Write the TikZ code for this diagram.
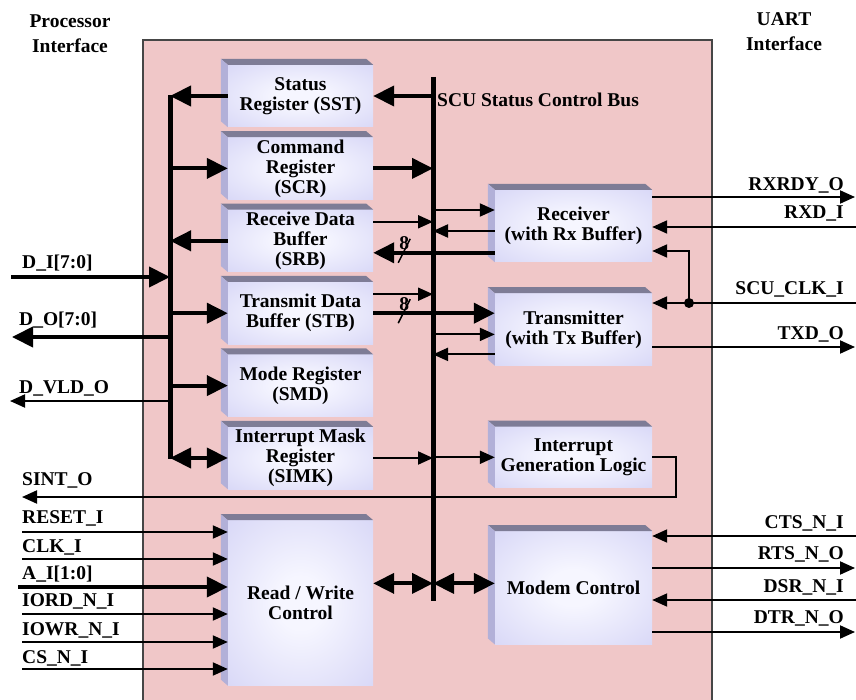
\documentclass[tikz,border=0pt]{standalone}
\usepackage{fontspec}
\setmainfont{Liberation Serif}
\usetikzlibrary{arrows.meta,positioning}
\definecolor{cellpink}{RGB}{240,199,200}
\definecolor{celledge}{RGB}{70,70,70}
\definecolor{boxin}{RGB}{246,246,255}
\definecolor{boxout}{RGB}{206,205,244}
\definecolor{boxtop}{RGB}{126,124,150}
\definecolor{boxside}{RGB}{178,176,216}
\pgfdeclareradialshading{boxglow}{\pgfpoint{0bp}{0bp}}{color(0bp)=(boxin); color(8bp)=(boxin); color(46bp)=(boxout); color(72bp)=(boxout)}
\newcommand{\sigfont}{\fontsize{19.5}{20}\selectfont\bfseries}
\newcommand{\hdrfont}{\fontsize{19.5}{25}\selectfont\bfseries}

\begin{document}
\begin{tikzpicture}[
    x=1pt,y=-1pt,
    every node/.style={font=\sigfont},
    regbox/.style={rectangle,shade,shading=boxglow,inner sep=0pt,align=center,
      minimum width=145pt,minimum height=62pt},
    unitbox/.style={regbox,minimum width=157pt,minimum height=72pt},
    pinlbl/.style={inner sep=0pt},
    dotnode/.style={circle,fill=black,inner sep=0pt,minimum size=10pt},
    thinarr/.style={line width=2pt,-{Triangle[length=15pt,width=13pt]}},
    thickarr/.style={line width=4pt,-{Triangle[length=21pt,width=20pt]}},
    dblarr/.style={line width=4pt,{Triangle[length=21pt,width=20pt]}-{Triangle[length=21pt,width=20pt]}},
    bus/.style={line width=5pt},
    slash/.style={line width=1.5pt}
  ]
  \useasboundingbox (0,0) rectangle (856,700);
  \fill[cellpink,draw=celledge,line width=1.2pt] (143,40) rectangle (712,703);

  \node[align=center,font=\hdrfont] (procif) at (70,34) {Processor\\Interface};
  \node[align=center,font=\hdrfont] (uartif) at (784,32) {UART\\Interface};

  % register column
  \node[regbox] (sst) at (300.5,96) {Status\\Register (SST)};
  \node[regbox,below=10pt of sst] (scr) {Command\\Register\\(SCR)};
  \node[regbox,below=10pt of scr] (srb) {Receive Data\\Buffer\\(SRB)};
  \node[regbox,below=10pt of srb] (stb) {Transmit Data\\Buffer (STB)};
  \node[regbox,below=10pt of stb] (smd) {Mode Register\\(SMD)};
  \node[regbox,below=10pt of smd] (simk) {Interrupt Mask\\Register\\(SIMK)};
  \node[regbox,below=31pt of simk,minimum height=165pt] (rw) {Read / Write\\Control};

  % uart column
  \node[unitbox] (rx) at (573.5,226) {Receiver\\(with Rx Buffer)};
  \node[unitbox,below=31pt of rx] (tx) {Transmitter\\(with Tx Buffer)};
  \node[unitbox,below=61pt of tx,minimum height=61pt] (igl) {Interrupt\\Generation Logic};
  \node[unitbox,below=43pt of igl,minimum height=113pt] (mdm) {Modem Control};

  % 3d edges
  \foreach \b in {sst,scr,srb,stb,smd,simk,rw,rx,tx,igl,mdm} {
    \fill[boxtop] (\b.north west) -- ++(-7,-6) -- ([shift={(-7,-6)}]\b.north east) -- (\b.north east) -- cycle;
    \fill[boxside] (\b.north west) -- ++(-7,-6) -- ([shift={(-7,-6)}]\b.south west) -- (\b.south west) -- cycle;
  }

  % buses
  \coordinate (lbtop) at (170,95);
  \coordinate (lbbot) at (170,459);
  \draw[bus] (lbtop) -- (lbbot);
  \coordinate (mbtop) at (433,77);
  \coordinate (mbbot) at (433,601);
  \draw[bus] (mbtop) -- (mbbot);
  \node[pinlbl,anchor=base west] (buslbl) at (437,107) {SCU Status Control Bus};

  % processor side bus
  \draw[thickarr] (sst.west) -- (sst.west -| lbtop);
  \draw[thickarr] (scr.west -| lbtop) -- (scr.west);
  \draw[thickarr] (srb.west) -- (srb.west -| lbtop);
  \draw[thickarr] (stb.west -| lbtop) -- (stb.west);
  \draw[thickarr] (smd.west -| lbtop) -- (smd.west);
  \draw[dblarr] (simk.west -| lbtop) -- (simk.west);

  \coordinate (dii) at (11,277);
  \draw[thickarr] (dii) -- (dii -| lbtop);
  \node[pinlbl,anchor=base west] (ldi) at (22,269) {D\_I[7:0]};
  \coordinate (doo) at (12,337);
  \draw[thickarr] (doo -| lbtop) -- (doo);
  \node[pinlbl,anchor=base west] (ldo) at (19,326) {D\_O[7:0]};
  \coordinate (dvld) at (10,401);
  \draw[thinarr] (dvld -| lbtop) -- (dvld);
  \node[pinlbl,anchor=base west] (ldvld) at (19,393) {D\_VLD\_O};

  \coordinate (sintc) at (676,497);
  \coordinate (sinto) at (22,497);
  \draw[thinarr] (igl.east) -| (sintc) -- (sinto);
  \node[pinlbl,anchor=base west] (lsint) at (22,485) {SINT\_O};

  \coordinate (rsti) at (22,532);
  \draw[thinarr] (rsti) -- (rsti -| rw.west);
  \node[pinlbl,anchor=base west] (lrst) at (22,523) {RESET\_I};
  \coordinate (clki) at (22,559);
  \draw[thinarr] (clki) -- (clki -| rw.west);
  \node[pinlbl,anchor=base west] (lclk) at (22,552) {CLK\_I};
  \coordinate (adri) at (18,587);
  \draw[thickarr] (adri) -- (adri -| rw.west);
  \node[pinlbl,anchor=base west] (ladr) at (22,579) {A\_I[1:0]};
  \coordinate (iordi) at (22,614);
  \draw[thinarr] (iordi) -- (iordi -| rw.west);
  \node[pinlbl,anchor=base west] (liord) at (22,606) {IORD\_N\_I};
  \coordinate (iowri) at (22,642);
  \draw[thinarr] (iowri) -- (iowri -| rw.west);
  \node[pinlbl,anchor=base west] (liowr) at (22,635) {IOWR\_N\_I};
  \coordinate (csi) at (22,669);
  \draw[thinarr] (csi) -- (csi -| rw.west);
  \node[pinlbl,anchor=base west] (lcs) at (22,663) {CS\_N\_I};

  % status control bus
  \draw[thickarr] (sst.east -| mbtop) -- (sst.east);
  \draw[thickarr] (scr.east) -- (scr.east -| mbtop);
  \coordinate (srbst) at ([yshift=19pt]srb.east);
  \draw[thinarr] (srbst) -- (srbst -| mbtop);
  \coordinate (rxdata) at ([yshift=-12pt]srb.east);
  \draw[thickarr] (rxdata -| rx.west) -- (rxdata);
  \draw[slash] ([shift={(25,10)}]rxdata) -- ([shift={(37,-14)}]rxdata);
  \node[pinlbl,anchor=base] (w8rx) at ([shift={(31,-3)}]rxdata) {8};
  \coordinate (rxcmd) at ([yshift=16pt]rx.west);
  \draw[thinarr] (rxcmd -| mbtop) -- (rxcmd);
  \coordinate (rxstat) at ([yshift=-5pt]rx.west);
  \draw[thinarr] (rxstat) -- (rxstat -| mbtop);

  \coordinate (stbst) at ([yshift=19pt]stb.east);
  \draw[thinarr] (stbst) -- (stbst -| mbtop);
  \draw[thickarr] (stb.east) -- (stb.east -| tx.west);
  \draw[slash] ([shift={(25,10)}]stb.east) -- ([shift={(37,-14)}]stb.east);
  \node[pinlbl,anchor=base] (w8tx) at ([shift={(31,-3)}]stb.east) {8};
  \coordinate (txcmd) at ([yshift=-5pt]tx.west);
  \draw[thinarr] (txcmd -| mbtop) -- (txcmd);
  \coordinate (txstat) at ([yshift=-25pt]tx.west);
  \draw[thinarr] (txstat) -- (txstat -| mbtop);

  \draw[thinarr] (simk.east) -- (simk.east -| mbtop);
  \draw[thinarr] (igl.west -| mbtop) -- (igl.west);
  \coordinate (rwbus) at ([yshift=19.5pt]rw.east);
  \draw[dblarr] (rwbus) -- (rwbus -| mbtop);
  \draw[dblarr] (rwbus -| mbtop) -- (rwbus -| mdm.west);

  % uart side
  \coordinate (rxrdy) at (855,197);
  \draw[thinarr] (rxrdy -| rx.east) -- (rxrdy);
  \node[pinlbl,anchor=base east] (lrxrdy) at (844,191) {RXRDY\_O};
  \coordinate (rxdi) at (856,227);
  \draw[thinarr] (rxdi) -- (rxdi -| rx.east);
  \node[pinlbl,anchor=base east] (lrxd) at (844,219) {RXD\_I};
  \coordinate (scuclk) at (856,303);
  \draw[thinarr] (scuclk) -- (scuclk -| tx.east);
  \node[pinlbl,anchor=base east] (lclkr) at (844,295) {SCU\_CLK\_I};
  \node[dotnode] (clkdot) at (689,303) {};
  \coordinate (rxclk) at ([yshift=-25pt]rx.east);
  \draw[thinarr] (clkdot.center) |- (rxclk);
  \coordinate (txdo) at (855,347);
  \draw[thinarr] (txdo -| tx.east) -- (txdo);
  \node[pinlbl,anchor=base east] (ltxd) at (844,339) {TXD\_O};

  \coordinate (ctsi) at (856,536);
  \draw[thinarr] (ctsi) -- (ctsi -| mdm.east);
  \node[pinlbl,anchor=base east] (lcts) at (844,528) {CTS\_N\_I};
  \coordinate (rtso) at (855,568);
  \draw[thinarr] (rtso -| mdm.east) -- (rtso);
  \node[pinlbl,anchor=base east] (lrts) at (844,559) {RTS\_N\_O};
  \coordinate (dsri) at (856,600);
  \draw[thinarr] (dsri) -- (dsri -| mdm.east);
  \node[pinlbl,anchor=base east] (ldsr) at (844,592) {DSR\_N\_I};
  \coordinate (dtro) at (855,632);
  \draw[thinarr] (dtro -| mdm.east) -- (dtro);
  \node[pinlbl,anchor=base east] (ldtr) at (844,623) {DTR\_N\_O};
\end{tikzpicture}
\end{document}
